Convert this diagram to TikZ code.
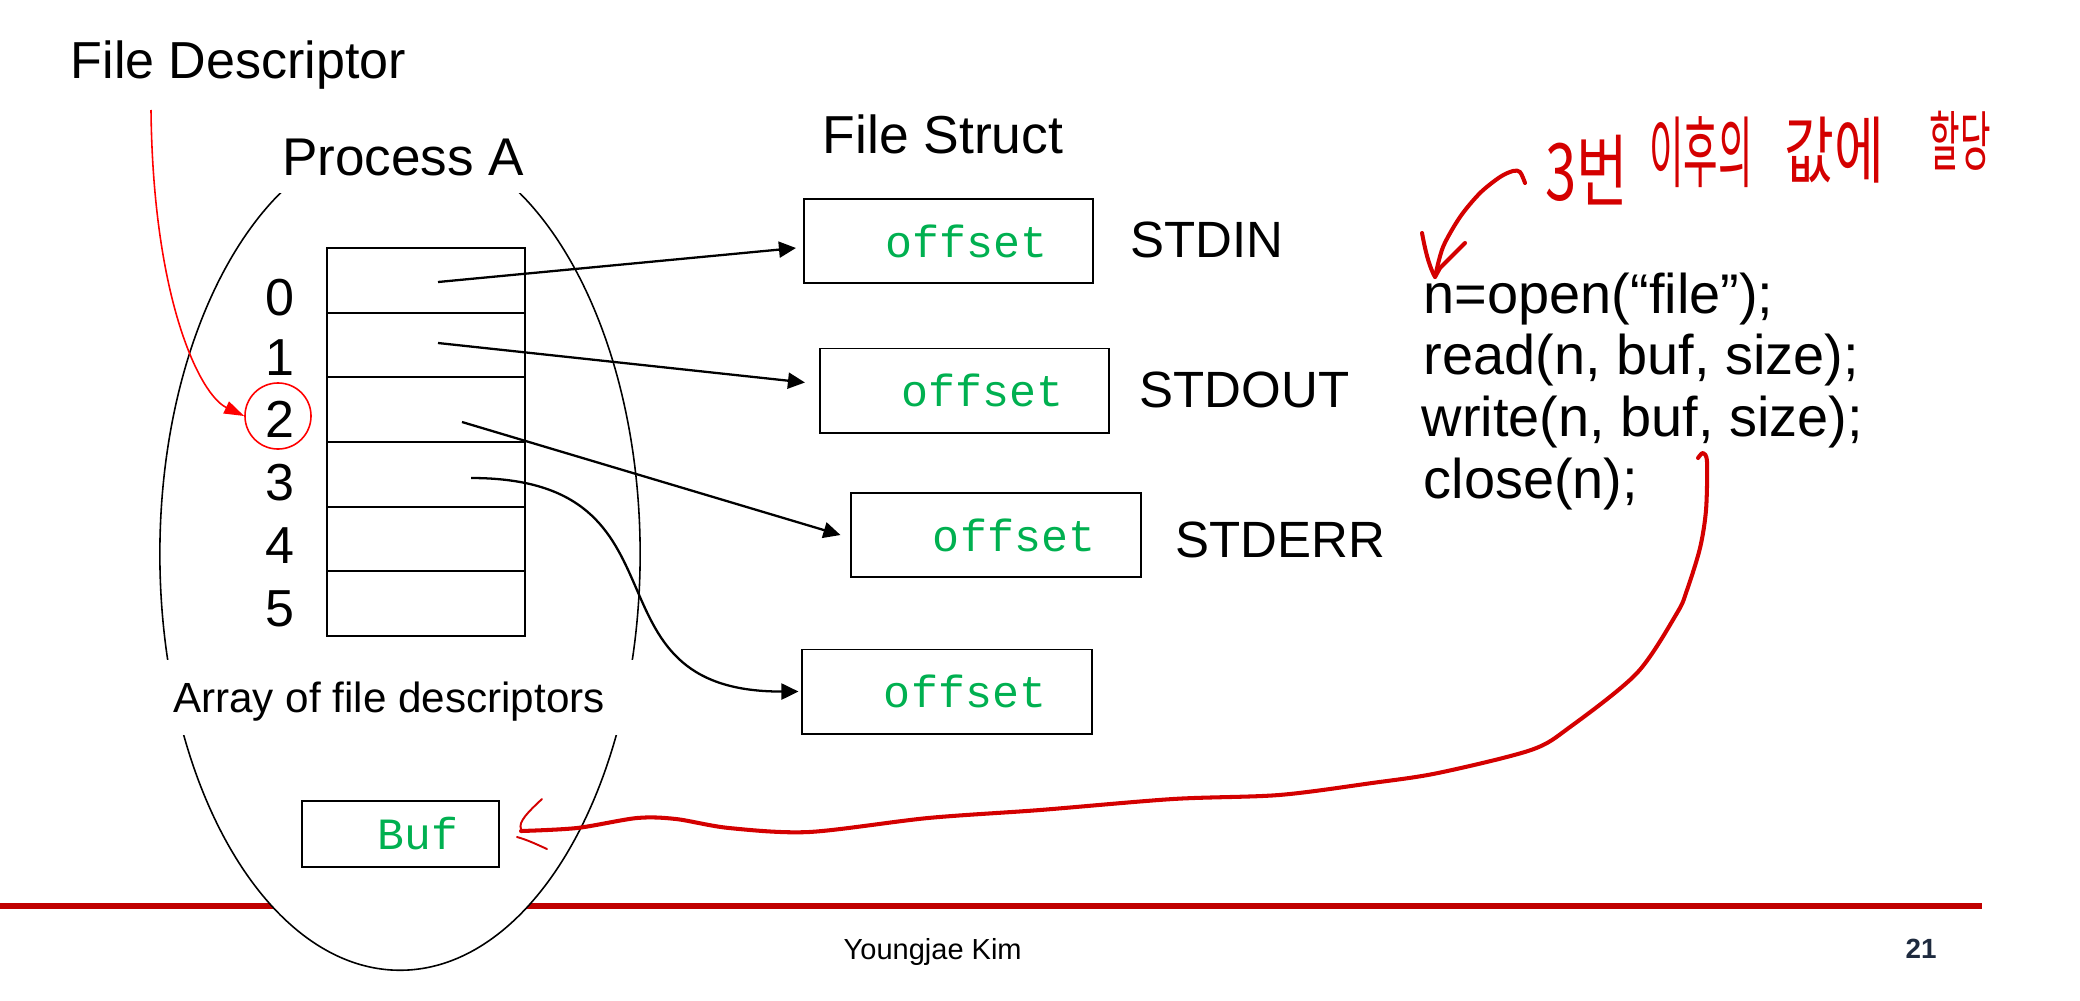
\documentclass[tikz,border=0pt]{standalone}
\usepackage{fontspec}
\usepackage{graphicx}
\setmainfont{Liberation Sans}
\newfontfamily\monofont{Liberation Mono}
\newfontfamily\krfont{Noto Sans CJK KR}
\usetikzlibrary{arrows.meta,shapes.geometric,calc}
\definecolor{offgreen}{RGB}{0,176,80}
\definecolor{footred}{RGB}{192,0,0}
\definecolor{handred}{RGB}{212,0,0}
\definecolor{fdred}{RGB}{255,0,0}
\definecolor{navy}{RGB}{30,42,62}
\begin{document}
\begin{tikzpicture}[x=0.01cm,y=-0.01cm,
  txt/.style={inner sep=0pt, anchor=base west},
  digit/.style={inner sep=0pt, anchor=base, font=\fontsize{14.8}{14.8}\selectfont},
  cell/.style={draw, line width=0.55pt, minimum width=1.98cm, minimum height=0.647cm, inner sep=0pt},
  fsbox/.style={draw, line width=0.55pt, minimum width=2.89cm, minimum height=0.84cm, inner sep=0pt, text=offgreen, font=\monofont\fontsize{12.8}{12.8}\selectfont},
  ptr/.style={line width=0.65pt, -{Triangle[length=0.17cm,width=0.16cm]}},
  hand/.style={handred, line width=1.15pt, line cap=round, line join=round},
  handtxt/.style={inner sep=0pt, text=handred},
  lbl/.style={txt, font=\fontsize{14.5}{14.5}\selectfont},
  code/.style={txt, font=\fontsize{15.9}{15.9}\selectfont},
]
\useasboundingbox (0,0) rectangle (2080,1000);
% footer
\draw[footred, line width=0.06cm] (0,906) -- (1982,906);
\node[txt, font=\fontsize{8.25}{8.25}\selectfont] (author) at (843,959) {Youngjae Kim};
\node[txt, text=navy, font=\bfseries\fontsize{7.9}{7.9}\selectfont] (page) at (1905,958) {21};

% process ellipse
\node[draw, ellipse, fill=white, line width=0.45pt, minimum width=4.8cm, minimum height=8.32cm, inner sep=0pt] (proc) at (400,554) {};
\node[anchor=base, inner xsep=0.04cm, inner ysep=0.18cm, text depth=0pt, fill=white, font=\fontsize{15.1}{15.1}\selectfont] (pa) at (403,175) {Process A};
\node[anchor=base, inner xsep=0.32cm, inner ysep=0.23cm, text height=0.29cm, text depth=0pt, fill=white, font=\fontsize{12}{12}\selectfont] (arr) at (389,712) {Array of file descriptors};

% descriptor table
\node[cell] (r0) at (426,280.3) {};
\node[cell] (r1) at (426,345) {};
\node[cell] (r2) at (426,409.7) {};
\node[cell] (r3) at (426,474.3) {};
\node[cell] (r4) at (426,539) {};
\node[cell] (r5) at (426,603.7) {};
\node[digit] (d0) at (280,315) {0};
\node[digit] (d1) at (280,375) {1};
\node[digit] (d2) at (280,437) {2};
\node[digit] (d3) at (280,500) {3};
\node[digit] (d4) at (280,563) {4};
\node[digit] (d5) at (280,626) {5};
\node[draw=fdred, circle, line width=0.45pt, minimum size=0.66cm, inner sep=0pt] (ring) at (278,416) {};

% File Descriptor label and arrow
\node[txt, font=\fontsize{14.8}{14.8}\selectfont] (fd) at (70,78) {File Descriptor};
\coordinate (fdstart) at (151,110);
\draw[fdred, line width=0.45pt, -{Triangle[length=0.2cm,width=0.13cm]}] (fdstart) .. controls (153,300) and (200,395) .. (ring.west);

% file structs
\node[txt, font=\fontsize{15.2}{15.2}\selectfont] (fst) at (822,153) {File Struct};
\node[fsbox] (b1) at (948.5,241) {\hspace{0.36cm}offset};
\node[fsbox] (b2) at (964.5,390.5) {\hspace{0.36cm}offset};
\node[fsbox] (b3) at (996,535) {\hspace{0.36cm}offset};
\node[fsbox] (b4) at (947,691.5) {\hspace{0.36cm}offset};
\node[lbl] (l1) at (1130,257) {STDIN};
\node[lbl] (l2) at (1139,407) {STDOUT};
\node[lbl] (l3) at (1175,557) {STDERR};

% pointers
\coordinate (s0) at (438,282);
\coordinate (s1) at (438,343);
\coordinate (s2) at (462,422);
\coordinate (s3) at (471,478);
\draw[ptr] (s0) -- ($(b1.west)+(-7,7)$);
\draw[ptr] (s1) -- ($(b2.west)+(-14,-8)$);
\draw[ptr] (s2) -- ($(b3.west)+(-10,0)$);
\draw[ptr] (s3) .. controls (700,478) and (575,692) .. ($(b4.west)+(-3,0)$);

% buffer
\node[draw, line width=0.55pt, minimum width=1.97cm, minimum height=0.66cm, inner sep=0pt, text=offgreen, font=\monofont\fontsize{12.7}{12.7}\selectfont] (buf) at (400.5,834) {\hspace{0.35cm}Buf};

% code
\node[code] (c1) at (1423,313) {n=open(“file”);};
\node[code] (c2) at (1423,374) {read(n, buf, size);};
\node[code] (c3) at (1421,436) {write(n, buf, size);};
\node[code] (c4) at (1423,498) {close(n);};

% handwriting annotation
\node[handtxt, font=\krfont\fontsize{22.5}{22.5}\selectfont] (w1) at (1587,170) {\scalebox{0.71}[1]{3번}};
\node[handtxt, font=\krfont\fontsize{22.2}{22.2}\selectfont] (w2) at (1701,152) {\scalebox{0.48}[1]{이후의}};
\node[handtxt, font=\krfont\fontsize{20.8}{20.8}\selectfont] (w3) at (1834,150) {\scalebox{0.74}[1]{값에}};
\node[handtxt, font=\krfont\fontsize{18.5}{18.5}\selectfont] (w4) at (1960,141) {\scalebox{0.51}[1]{할당}};

\coordinate (annstart) at (1525,183);
\coordinate (anntip) at ($(c1.base west)+(12,-36)$);
\draw[hand] plot[smooth, tension=0.5] coordinates {(annstart) (1520,172) (1513,171) (1500,177) (1480,193) (1460,217) (1443,247) (anntip)};
\draw[hand] (1422,233) .. controls (1426,255) and (1430,268) .. (anntip) -- (1440,268) -- (1465,243);

% red curve from code to buffer
\coordinate (hookA) at (1698,458);
\coordinate (bufin) at ($(buf.east)+(21,-3)$);
\draw[hand] plot[smooth, tension=0.5] coordinates {(hookA) (1703,453) (1707,462) (1706,510) (1700,548) (1687,590) (1677,613) (1637,673) (1570,727) (1531,750) (1438,773) (1372,783) (1279,795) (1173,799) (1040,810) (928,818) (809,832) (729,828) (676,819) (637,818) (577,828) (bufin)};
\draw[handred, line width=0.55pt, line cap=round] (542,799) .. controls (528,812) and (518,822) .. (521,829);
\draw[handred, line width=0.55pt, line cap=round] (517,837) .. controls (528,840) and (538,845) .. (547,849);
\end{tikzpicture}
\end{document}
